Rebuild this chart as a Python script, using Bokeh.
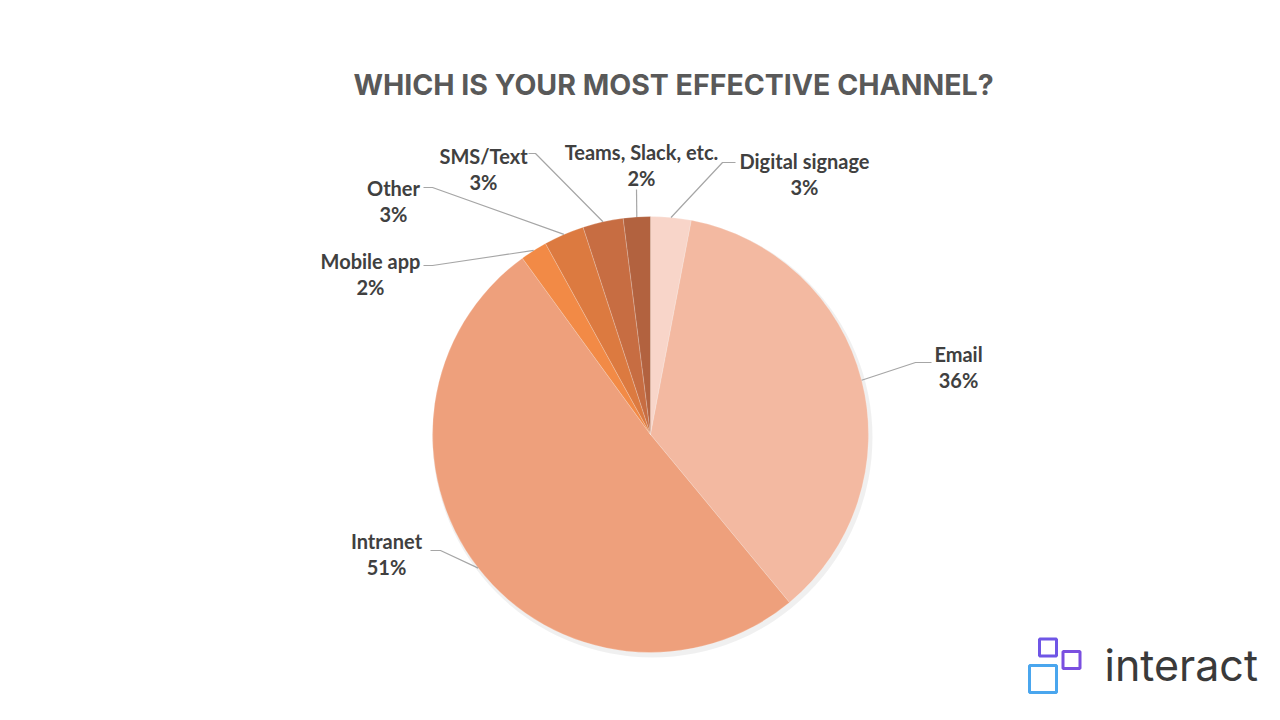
import math
from bokeh.plotting import figure
from bokeh.models import ColumnDataSource
from bokeh.core.properties import value
from bokeh.embed import file_html
from bokeh.resources import INLINE

# ---- data ----
categories = ["Digital signage", "Email", "Intranet", "Mobile app", "Other", "SMS/Text", "Teams, Slack, etc."]
shares = [3, 36, 51, 2, 3, 3, 2]
colors = ["#f8d5c9", "#f3b9a1", "#eea07c", "#f28a46", "#dc7a40", "#c76d42", "#b2623f"]
title_text = "WHICH IS YOUR MOST EFFECTIVE CHANNEL?"
logo_text = "interact"

# ---- layout (image pixel coordinates; data y = 720 - image y) ----
W, H = 1264, 704
CX, CY_IMG, R = 650, 434, 218
def Y(img_y):
    return 720 - img_y

# label anchor (text centre) positions and leader elbow points, image coords
label_pos = {
    "Digital signage": (804, 160),
    "Email": (958, 353),
    "Intranet": (386, 540),
    "Mobile app": (370, 260),
    "Other": (393, 187),
    "SMS/Text": (483, 155),
    "Teams, Slack, etc.": (641, 151),
}
leader_end = {
    "Digital signage": [(722, 162), (735, 162)],
    "Email": [(915, 362), (931, 362)],
    "Intranet": [(440, 550), (430, 550)],
    "Mobile app": [(432, 265), (423, 265)],
    "Other": [(432, 187), (423, 187)],
    "SMS/Text": [(535, 153), (528, 153)],
    "Teams, Slack, etc.": [(636, 189)],
}

p = figure(width=W, height=H, x_range=(0, W), y_range=(720 - H, 720),
           output_backend="svg", toolbar_location=None, min_border=0)
p.axis.visible = False
p.grid.visible = False
p.outline_line_color = None
p.background_fill_color = "white"

# wedges
total = sum(shares)
starts, ends, mids = [], [], []
cum = 0
for s in shares:
    a0 = math.pi / 2 - 2 * math.pi * cum / total
    a1 = math.pi / 2 - 2 * math.pi * (cum + s) / total
    starts.append(a0)
    ends.append(a1)
    mids.append(2 * math.pi * (cum + s / 2) / total)
    cum += s

# soft shadow
p.wedge(x=CX + 2, y=Y(CY_IMG) - 3, radius=R + 2, start_angle=0, end_angle=2 * math.pi,
        fill_color="#000000", fill_alpha=0.06, line_color=None)

src = ColumnDataSource(dict(start=starts, end=ends, color=colors, cat=categories))
p.wedge(x=CX, y=Y(CY_IMG), radius=R, start_angle="start", end_angle="end",
        direction="clock", fill_color="color", line_color="white", line_width=0.4,
        line_alpha=0.5, source=src)

# leader lines
xs, ys = [], []
for cat, m in zip(categories, mids):
    ax = CX + R * math.sin(m)
    ay = CY_IMG - R * math.cos(m)
    pts = [(ax, ay)] + leader_end[cat]
    xs.append([pt[0] for pt in pts])
    ys.append([Y(pt[1]) for pt in pts])
p.multi_line(xs=xs, ys=ys, line_color="#a6a6a6", line_width=1.2)

# labels
lx, ly, lt = [], [], []
for cat, s in zip(categories, shares):
    x, y = label_pos[cat]
    lx += [x, x]
    ly += [Y(y), Y(y + 26)]
    lt += [cat, f"{s}%"]
p.text(x=lx, y=ly, text=lt, text_font=value("Lato"), text_font_style="bold",
       text_font_size="20px", text_color="#404040", text_align="center",
       text_baseline="middle")

# title
p.text(x=[673], y=[Y(84)], text=[title_text], text_font=value("Inter"),
       text_font_style="bold", text_font_size="28.5px", text_color="#595959",
       text_align="center", text_baseline="middle")

# logo
p.rect(x=[1042.5], y=[Y(678.5)], width=27, height=27, fill_color=None,
       line_color="#4aa6ee", line_width=3)
p.rect(x=[1047.5], y=[Y(647)], width=17, height=17, fill_color=None,
       line_color="#6f56e6", line_width=3)
p.rect(x=[1071], y=[Y(659.5)], width=17, height=17, fill_color=None,
       line_color="#7a4fe0", line_width=3)
p.text(x=[1104], y=[Y(664)], text=[logo_text], text_font=value("Inter"),
       text_font_size="43px", text_color="#3a3a3a", text_align="left",
       text_baseline="middle")

open("out.html", "w").write(file_html(p, INLINE))
